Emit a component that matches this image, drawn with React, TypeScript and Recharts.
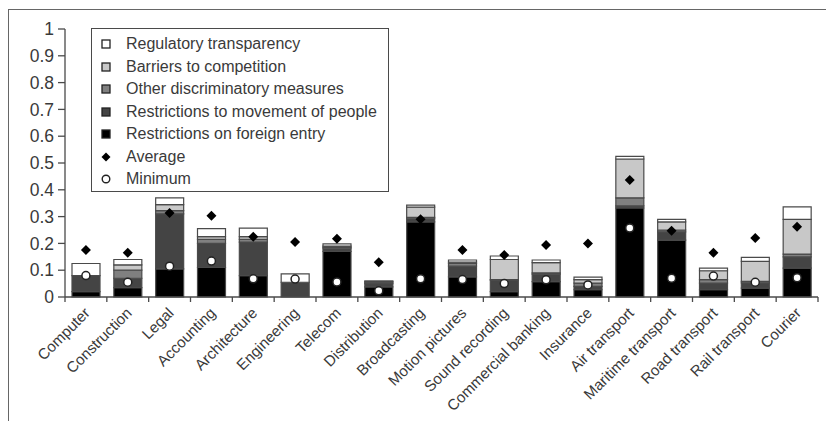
import { ComposedChart, Bar, Line, XAxis, YAxis, Legend } from "recharts";

const categories = [
  "Computer", "Construction", "Legal", "Accounting", "Architecture", "Engineering",
  "Telecom", "Distribution", "Broadcasting", "Motion pictures", "Sound recording",
  "Commercial banking", "Insurance", "Air transport", "Maritime transport",
  "Road transport", "Rail transport", "Courier",
];

const foreignEntry = [0.02, 0.035, 0.105, 0.11, 0.08, 0, 0.17, 0.038, 0.28, 0.075, 0.02, 0.057, 0.027, 0.332, 0.212, 0.027, 0.033, 0.108];
const movementPeople = [0.06, 0.035, 0.205, 0.09, 0.125, 0.055, 0.01, 0.012, 0.012, 0.04, 0.043, 0.028, 0.013, 0.008, 0.031, 0.025, 0.02, 0.042];
const otherDiscrim = [0, 0.03, 0.012, 0.015, 0.01, 0, 0.005, 0.005, 0.005, 0.01, 0.002, 0.005, 0.012, 0.03, 0.007, 0.013, 0.005, 0.01];
const barriers = [0, 0.02, 0.023, 0.01, 0.01, 0, 0.005, 0.003, 0.038, 0.005, 0.075, 0.038, 0.013, 0.145, 0.03, 0.033, 0.075, 0.13];
const transparency = [0.045, 0.02, 0.025, 0.03, 0.032, 0.031, 0.008, 0.002, 0.008, 0.008, 0.013, 0.01, 0.009, 0.01, 0.01, 0.01, 0.015, 0.046];
const average = [0.175, 0.165, 0.313, 0.303, 0.225, 0.205, 0.217, 0.13, 0.29, 0.175, 0.157, 0.194, 0.2, 0.437, 0.247, 0.165, 0.22, 0.262];
const minimum = [0.08, 0.055, 0.115, 0.134, 0.068, 0.067, 0.056, 0.023, 0.068, 0.065, 0.05, 0.064, 0.045, 0.257, 0.07, 0.078, 0.055, 0.072];

const yTicks = [0, 0.1, 0.2, 0.3, 0.4, 0.5, 0.6, 0.7, 0.8, 0.9, 1];

const data = categories.map((name, i) => ({
  name,
  entry: foreignEntry[i],
  movement: movementPeople[i],
  other: otherDiscrim[i],
  barriers: barriers[i],
  transparency: transparency[i],
  average: average[i],
  minimum: minimum[i],
}));

const FONT = "'Liberation Sans', Arial, sans-serif";
const TEXT = "#3a3a3a";
const EDGE = "#4a4a4a";

// legend rows, top to bottom
const legendItems = [
  { label: "Regulatory transparency", kind: "square", fill: "#ffffff" },
  { label: "Barriers to competition", kind: "square", fill: "#c8c8c8" },
  { label: "Other discriminatory measures", kind: "square", fill: "#808080" },
  { label: "Restrictions to movement of people", kind: "square", fill: "#444444" },
  { label: "Restrictions on foreign entry", kind: "square", fill: "#000000" },
  { label: "Average", kind: "diamond", fill: "#000000" },
  { label: "Minimum", kind: "circle", fill: "#ffffff" },
];

function LegendBox() {
  return (
    <div style={{
      width: 298, height: 164, border: `1.5px solid ${EDGE}`, background: "#fff",
      boxSizing: "border-box", padding: "4px 0 0 8px", fontFamily: FONT,
    }}>
      {legendItems.map(item => (
        <div key={item.label} style={{ display: "flex", alignItems: "center", height: 22.5 }}>
          <svg width={12} height={12} style={{ marginRight: 14 }}>
            {item.kind === "square" && (
              <rect x={2} y={2} width={8} height={8} fill={item.fill} stroke="#222" strokeWidth={1.3} />
            )}
            {item.kind === "diamond" && <path d="M6 1.5 L10.5 6 L6 10.5 L1.5 6 Z" fill="#000" />}
            {item.kind === "circle" && <circle cx={6} cy={6} r={3.8} fill="#fff" stroke="#222" strokeWidth={1.4} />}
          </svg>
          <span style={{ fontSize: 16, color: TEXT, whiteSpace: "nowrap" }}>{item.label}</span>
        </div>
      ))}
    </div>
  );
}

function DiamondDot(props: any) {
  const { cx, cy } = props;
  if (cx == null || cy == null) return null;
  return <path d={`M${cx} ${cy - 5} L${cx + 5} ${cy} L${cx} ${cy + 5} L${cx - 5} ${cy} Z`} fill="#000" />;
}

function CircleDot(props: any) {
  const { cx, cy } = props;
  if (cx == null || cy == null) return null;
  return <circle cx={cx} cy={cy} r={4} fill="#fff" stroke="#222" strokeWidth={1.5} />;
}

function CategoryTick(props: any) {
  const { x, y, payload, index, visibleTicksCount } = props;
  const step = 753 / categories.length;
  const last = index === (visibleTicksCount ?? categories.length) - 1;
  return (
    <g>
      <line x1={x - step / 2} y1={y - 8} x2={x - step / 2} y2={y - 3} stroke={EDGE} strokeWidth={1.3} />
      {last && <line x1={x + step / 2} y1={y - 8} x2={x + step / 2} y2={y - 3} stroke={EDGE} strokeWidth={1.3} />}
      <text
        x={x + 5} y={y + 9}
        transform={`rotate(-45 ${x + 5} ${y + 9})`}
        textAnchor="end"
        fontSize={15.2}
        fontFamily={FONT}
        fill={TEXT}
      >
        {payload.value}
      </text>
    </g>
  );
}

const segStyle = { stroke: EDGE, strokeWidth: 1.2 };

export default function App() {
  return (
    <div style={{ position: "absolute", left: 0, top: 0, width: 826, height: 421, background: "#fff" }}>
      <div style={{ position: "absolute", left: 8, top: 9, width: 818, height: 412, borderLeft: "1.5px solid #666", borderTop: "1.5px solid #666" }} />
      <ComposedChart
        width={826}
        height={421}
        data={data}
        margin={{ top: 29, right: 8, left: 0, bottom: 0 }}
        barSize={28}
        style={{ position: "absolute", left: 0, top: 0 }}
      >
        <XAxis
          dataKey="name"
          interval={0}
          height={124}
          axisLine={{ stroke: EDGE, strokeWidth: 1.3 }}
          tickLine={false}
          tick={<CategoryTick />}
        />
        <YAxis
          domain={[0, 1]}
          ticks={yTicks}
          width={65}
          axisLine={{ stroke: EDGE, strokeWidth: 1.3 }}
          tickLine={{ stroke: EDGE, strokeWidth: 1.3 }}
          tickSize={7}
          tickMargin={4}
          tick={{ fontSize: 17.5, fill: TEXT, fontFamily: FONT }}
          tickFormatter={(v: number) => String(v)}
        />
        <Legend
          layout="vertical"
          align="center"
          verticalAlign="middle"
          wrapperStyle={{ left: 91, top: 28, width: 298, height: 164 }}
          content={() => <LegendBox />}
        />
        <Bar dataKey="entry" stackId="s" fill="#000000" {...segStyle} isAnimationActive={false} />
        <Bar dataKey="movement" stackId="s" fill="#444444" {...segStyle} isAnimationActive={false} />
        <Bar dataKey="other" stackId="s" fill="#808080" {...segStyle} isAnimationActive={false} />
        <Bar dataKey="barriers" stackId="s" fill="#c8c8c8" {...segStyle} isAnimationActive={false} />
        <Bar dataKey="transparency" stackId="s" fill="#ffffff" {...segStyle} isAnimationActive={false} />
        <Line dataKey="average" stroke="none" dot={<DiamondDot />} activeDot={false} legendType="none" isAnimationActive={false} />
        <Line dataKey="minimum" stroke="none" dot={<CircleDot />} activeDot={false} legendType="none" isAnimationActive={false} />
      </ComposedChart>
    </div>
  );
}
